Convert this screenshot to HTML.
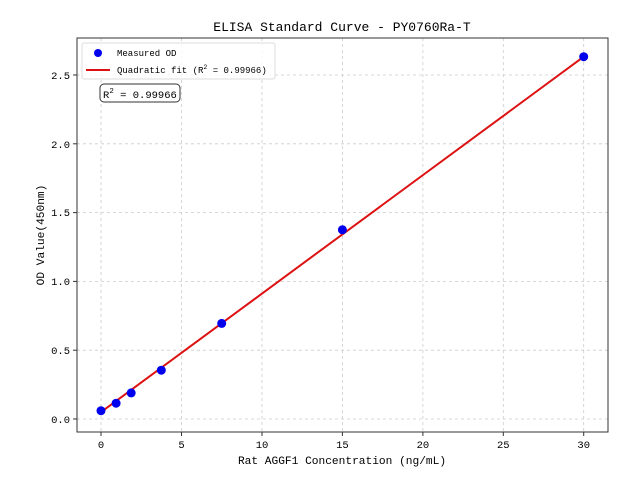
<!DOCTYPE html>
<html><head><meta charset="utf-8"><style>body{margin:0;background:#fff}svg{display:block}text{font-family:"Liberation Mono","WenQuanYi Zen Hei",monospace;fill:#000}</style></head><body>
<svg width="640" height="480" xmlns="http://www.w3.org/2000/svg">
<rect width="640" height="480" fill="#fff"/>
<g stroke="#ccc" stroke-dasharray="3,3" stroke-width="0.8">
<line x1="101" y1="38" x2="101" y2="432"/><line x1="181.5" y1="38" x2="181.5" y2="432"/><line x1="262" y1="38" x2="262" y2="432"/><line x1="342.4" y1="38" x2="342.4" y2="432"/><line x1="422.9" y1="38" x2="422.9" y2="432"/><line x1="503.3" y1="38" x2="503.3" y2="432"/><line x1="583.7" y1="38" x2="583.7" y2="432"/>
<line x1="77" y1="419" x2="608" y2="419"/><line x1="77" y1="350.2" x2="608" y2="350.2"/><line x1="77" y1="281.4" x2="608" y2="281.4"/><line x1="77" y1="212.6" x2="608" y2="212.6"/><line x1="77" y1="143.8" x2="608" y2="143.8"/><line x1="77" y1="75" x2="608" y2="75"/>
</g>
<line x1="101" y1="412.1" x2="583.7" y2="56.7" stroke="#dd1111" stroke-width="2"/>
<g fill="#0000ee">
<circle cx="101" cy="410.7" r="4.5"/><circle cx="116.1" cy="403.2" r="4.5"/><circle cx="131.2" cy="392.9" r="4.5"/><circle cx="161.3" cy="370.2" r="4.5"/><circle cx="221.7" cy="323.4" r="4.5"/><circle cx="342.4" cy="229.8" r="4.5"/><circle cx="583.7" cy="56.7" r="4.5"/>
</g>
<rect x="77" y="38" width="531" height="394" fill="none" stroke="#333" stroke-width="1"/>
<g stroke="#333"><line x1="101" y1="432" x2="101" y2="436"/><line x1="181.5" y1="432" x2="181.5" y2="436"/><line x1="262" y1="432" x2="262" y2="436"/><line x1="342.4" y1="432" x2="342.4" y2="436"/><line x1="422.9" y1="432" x2="422.9" y2="436"/><line x1="503.3" y1="432" x2="503.3" y2="436"/><line x1="583.7" y1="432" x2="583.7" y2="436"/>
<line x1="73" y1="419" x2="77" y2="419"/><line x1="73" y1="350.2" x2="77" y2="350.2"/><line x1="73" y1="281.4" x2="77" y2="281.4"/><line x1="73" y1="212.6" x2="77" y2="212.6"/><line x1="73" y1="143.8" x2="77" y2="143.8"/><line x1="73" y1="75" x2="77" y2="75"/></g>
<g font-size="10.5" text-anchor="middle"><text x="101" y="448">0</text><text x="181.5" y="448">5</text><text x="262" y="448">10</text><text x="342.4" y="448">15</text><text x="422.9" y="448">20</text><text x="503.3" y="448">25</text><text x="583.7" y="448">30</text></g>
<g font-size="10.5" text-anchor="end"><text x="70" y="423">0.0</text><text x="70" y="354">0.5</text><text x="70" y="285">1.0</text><text x="70" y="216">1.5</text><text x="70" y="148">2.0</text><text x="70" y="79">2.5</text></g>
<text x="342" y="464" font-size="11.2" text-anchor="middle">Rat AGGF1 Concentration (ng/mL)</text>
<text x="44" y="235" font-size="11.2" text-anchor="middle" transform="rotate(-90 44 235)">OD Value(450nm)</text>
<text x="342" y="31" font-size="13" text-anchor="middle">ELISA Standard Curve - PY0760Ra-T</text>
<rect x="82" y="43" width="193" height="36" rx="2" fill="#fff" fill-opacity="0.8" stroke="#ddd"/>
<circle cx="98" cy="53" r="4" fill="#0000ee"/>
<text x="117" y="56" font-size="9">Measured OD</text>
<line x1="86" y1="70" x2="110" y2="70" stroke="#dd1111" stroke-width="2"/>
<text x="117" y="73" font-size="9">Quadratic fit (R<tspan font-size="6.5" dy="-4">2</tspan><tspan dy="4"> = 0.99966)</tspan></text>
<rect x="100" y="84" width="80" height="18" rx="4" fill="#fff" stroke="#333"/>
<text x="103" y="98" font-size="10.5">R<tspan font-size="7.5" dy="-5">2</tspan><tspan dy="5"> = 0.99966</tspan></text>
</svg>
</body></html>
